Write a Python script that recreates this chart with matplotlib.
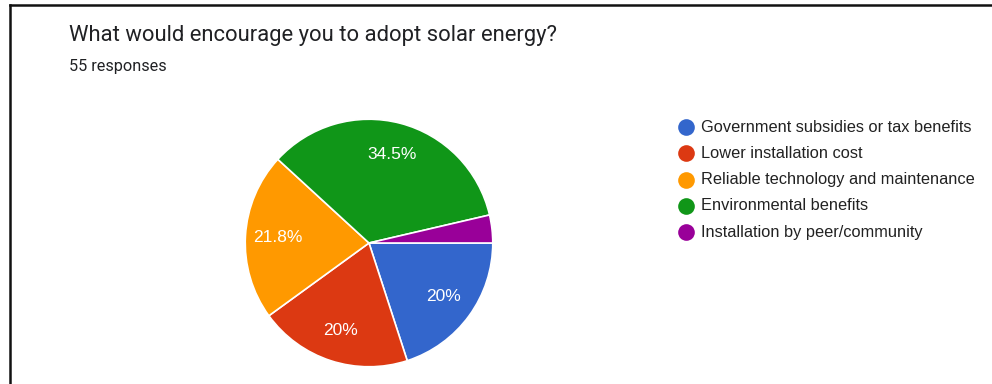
import matplotlib
matplotlib.use("Agg")
import matplotlib.pyplot as plt
from matplotlib.lines import Line2D

plt.rcParams["font.family"] = ["Roboto", "DejaVu Sans"]
ARIAL = ["Liberation Sans", "DejaVu Sans"]

title = "What would encourage you to adopt solar energy?"
subtitle = "55 responses"
categories = [
    "Government subsidies or tax benefits",
    "Lower installation cost",
    "Reliable technology and maintenance",
    "Environmental benefits",
    "Installation by peer/community",
]
counts = [11, 11, 12, 19, 2]
colors = ["#3366CC", "#DC3912", "#FF9900", "#109618", "#990099"]

W, H = 992, 384
fig = plt.figure(figsize=(W / 100, H / 100), dpi=100)

# frame lines along the left and top edges
fig.add_artist(Line2D([10 / W, 10 / W], [0, 1 - 5 / H], color="#111111", lw=1.8))
fig.add_artist(Line2D([10 / W, 1], [1 - 5 / H, 1 - 5 / H], color="#111111", lw=1.8))

fig.text(69 / W, 1 - 35 / H, title, fontsize=15.8, color="#202124", va="center")
fig.text(69 / W, 1 - 66 / H, subtitle, fontsize=11.7, color="#202124", va="center")

# pie, centred at (369, 243) px with radius 125 px
cx, cy, r = 369, H - 243, 125
ax = fig.add_axes([(cx - r) / W, (cy - r) / H, 2 * r / W, 2 * r / H])


def pct_label(p):
    if p < 5:
        return ""
    return "{:g}%".format(round(p, 1))


wedges, texts, autotexts = ax.pie(
    counts, colors=colors, startangle=0, counterclock=False,
    autopct=pct_label, pctdistance=0.74,
    wedgeprops=dict(edgecolor="white", linewidth=1.2),
    textprops=dict(color="white", fontsize=12.5, family=ARIAL),
)
ax.set_xlim(-1.01, 1.01)
ax.set_ylim(-1.01, 1.01)
ax.set_aspect("equal")
ax.axis("off")

# legend: coloured dots with labels
for i, (lab, col) in enumerate(zip(categories, colors)):
    y = 1 - (127 + i * 26.3) / H
    fig.add_artist(Line2D([686 / W], [y], marker="o", markersize=12,
                          color=col, markeredgewidth=0))
    fig.text(701 / W, y, lab, fontsize=11.8, color="#222222", va="center",
             family=ARIAL)

fig.savefig("out.png", dpi=100, facecolor="white")
